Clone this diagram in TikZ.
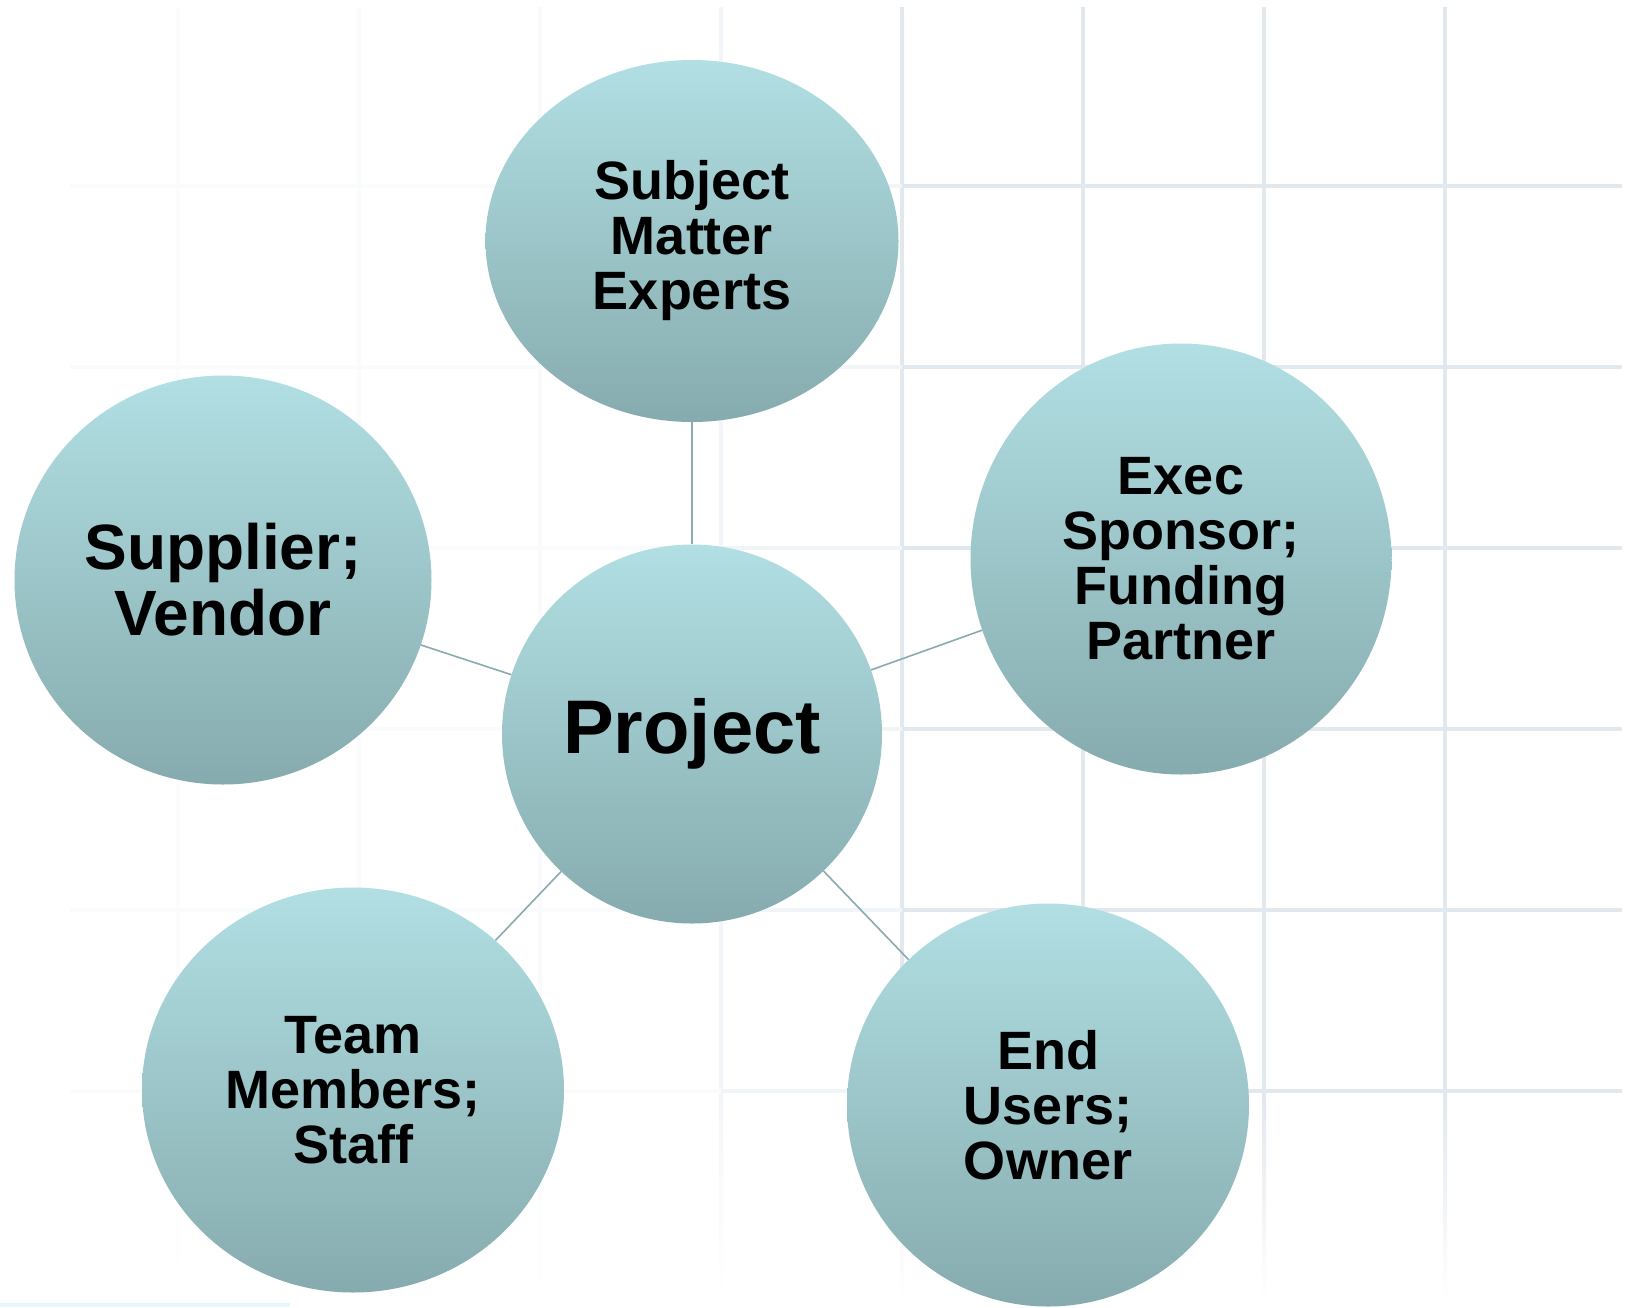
\documentclass[tikz,border=0pt]{standalone}
\usepackage{fontspec}
\setmainfont{Liberation Sans}
\usetikzlibrary{shapes.geometric}

\definecolor{bubbletop}{RGB}{177,223,227}
\definecolor{bubblemid}{RGB}{163,207,211}
\definecolor{bubblebot}{RGB}{134,171,174}
\definecolor{linkline}{RGB}{138,170,176}
\definecolor{gridline}{RGB}{225,232,238}
\definecolor{edgestrip}{RGB}{228,249,251}

\tikzset{
  bubble/.style={ellipse, inner sep=0pt, align=center,
    top color=bubbletop, middle color=bubblemid, bottom color=bubblebot,
    font=\bfseries\fontsize{54}{55}\selectfont},
  link/.style={draw=linkline, line width=1.6pt},
  gridrule/.style={line width=4pt},
}

\begin{document}
\begin{tikzpicture}[x=1pt,y=-1pt]
  \useasboundingbox (0,0) rectangle (1627,1307);
  \fill[white] (0,0) rectangle (1627,1307);

  % GRID (fades out towards the left and the bottom)
  \foreach \gx/\gp in {178/12,359/18,540/22,721/40,902/100,1083/100,1264/100,1445/100}{
    \draw[gridrule, gridline!\gp] (\gx,7) -- (\gx,1094);
    \shade[top color=gridline!\gp, bottom color=white] ({\gx-2},1094) rectangle ({\gx+2},1300);
  }
  \foreach \gy in {186,367,548,729,910,1091}{
    \draw[gridrule, gridline!15] (70,\gy) -- (721,\gy);
    \draw[gridrule, gridline!45] (721,\gy) -- (902,\gy);
    \draw[gridrule, gridline] (902,\gy) -- (1622,\gy);
  }
  \fill[edgestrip] (0,1303) rectangle (290,1307);

  % BUBBLES
  \node[bubble, minimum width=380, minimum height=379,
        font=\bfseries\fontsize{76}{78}\selectfont] (project) at (692,734) {Project};
  \node[bubble, minimum width=413, minimum height=362] (experts) at (692,241)
    {Subject\\Matter\\Experts};
  \node[bubble, minimum width=417, minimum height=409,
        font=\bfseries\fontsize{64}{66}\selectfont] (supplier) at (223,580)
    {Supplier;\\Vendor};
  \node[bubble, minimum width=421, minimum height=431] (sponsor) at (1181,559)
    {Exec\\Sponsor;\\Funding\\Partner};
  \node[bubble, minimum width=422, minimum height=405] (team) at (353,1090)
    {Team\\Members;\\Staff};
  \node[bubble, minimum width=402, minimum height=403] (users) at (1048,1105)
    {End\\Users;\\Owner};

  % LINKS
  \draw[link] (project) -- (experts);
  \draw[link] (project) -- (supplier);
  \draw[link] (project) -- (sponsor);
  \draw[link] (project) -- (team);
  \draw[link] (project) -- (users);
\end{tikzpicture}
\end{document}
